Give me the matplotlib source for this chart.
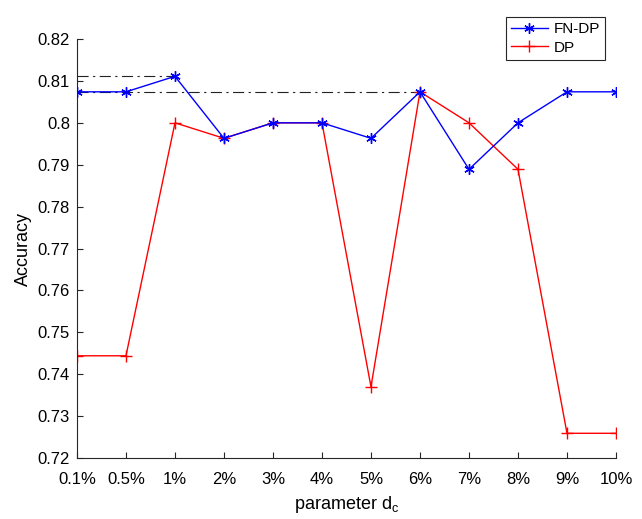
import matplotlib.pyplot as plt
import numpy as np
from matplotlib.ticker import FuncFormatter

plt.rcParams['font.family'] = ['Liberation Sans', 'DejaVu Sans']

# d_c settings and accuracies for both methods
dc_labels = ['0.1%', '0.5%', '1%', '2%', '3%', '4%', '5%', '6%', '7%', '8%', '9%', '10%']
fn_dp = [0.8074, 0.8074, 0.8111, 0.7963, 0.8000, 0.8000, 0.7963, 0.8074, 0.7889, 0.8000, 0.8074, 0.8074]
dp = [0.7444, 0.7444, 0.8000, 0.7963, 0.8000, 0.8000, 0.7370, 0.8074, 0.8000, 0.7889, 0.7259, 0.7259]

x = np.arange(len(dc_labels))

fig = plt.figure(figsize=(6.42, 5.19), dpi=100)
ax = fig.add_axes([0.1199, 0.1175, 0.8396, 0.8073])

# reference lines for the best FN-DP values
ax.plot([x[0], x[2]], [fn_dp[2], fn_dp[2]], color='#222222', lw=0.8, dashes=(10, 4, 2, 4), zorder=1)
ax.plot([x[0], x[7]], [fn_dp[7], fn_dp[7]], color='#222222', lw=0.8, dashes=(10, 4, 2, 4), zorder=1)

ax.plot(x, fn_dp, color='blue', lw=1, marker=(6, 2, 0), markersize=7.5, mew=1, label='FN-DP', zorder=3)
ax.plot(x, dp, color='red', lw=1, marker='+', markersize=8.5, mew=1, label='DP', zorder=2)

ax.set_xlim(x[0], x[-1])
ax.set_ylim(0.72, 0.82)
ax.set_yticks(np.arange(0.72, 0.8201, 0.01))
ax.yaxis.set_major_formatter(FuncFormatter(lambda v, p: '%g' % round(v, 2)))
ax.set_xticks(x)
ax.set_xticklabels(dc_labels)

ax.spines['top'].set_visible(False)
ax.spines['right'].set_visible(False)
for s in ['left', 'bottom']:
    ax.spines[s].set_color('#262626')
    ax.spines[s].set_linewidth(0.8)
ax.tick_params(direction='in', labelsize=12, colors='#262626', length=4, width=0.8)
ax.tick_params(axis='x', pad=10)
ax.tick_params(axis='y', pad=5)
for lab in ax.get_xticklabels() + ax.get_yticklabels():
    lab.set_color('black')

ax.set_xlabel(r'parameter d$_\mathregular{c}$', fontsize=13, labelpad=5)
ax.set_ylabel('Accuracy', fontsize=13, labelpad=4)

leg = fig.legend(loc='upper right', bbox_to_anchor=(613 / 642, 1 - 9 / 519), fontsize=11,
                 frameon=True, fancybox=False, framealpha=1, edgecolor='#262626',
                 handlelength=2.4, borderpad=0.35, labelspacing=0.3, handletextpad=0.4)
leg.get_frame().set_linewidth(0.8)

fig.savefig('out.png', dpi=100)
